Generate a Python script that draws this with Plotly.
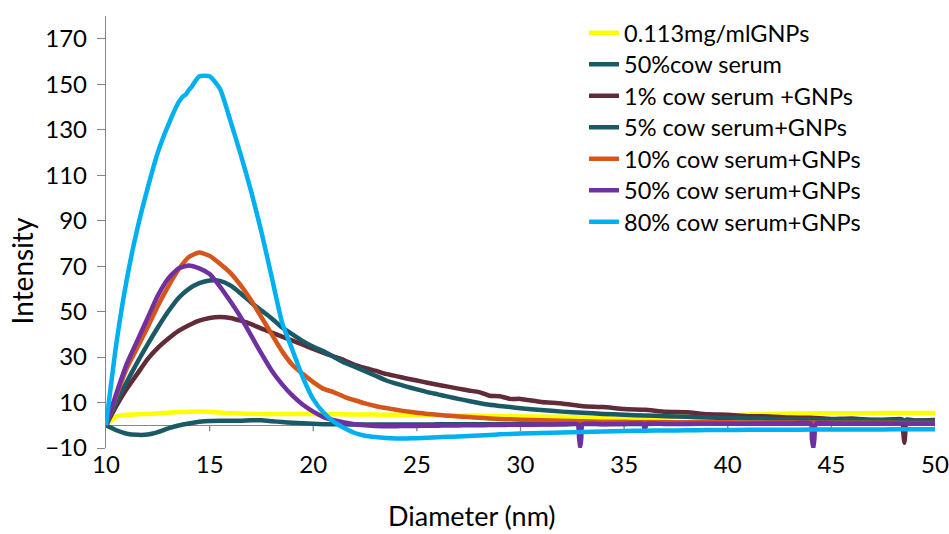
import plotly.graph_objects as go

# Diameter grid (nm): 0.5 nm steps up to 30 nm, 1 nm steps beyond
DIAMETER = [10.0, 10.5, 11.0, 11.5, 12.0, 12.5, 13.0, 13.5, 14.0, 14.5,
            15.0, 15.5, 16.0, 16.5, 17.0, 17.5, 18.0, 18.5, 19.0, 19.5,
            20.0, 20.5, 21.0, 21.5, 22.0, 22.5, 23.0, 23.5, 24.0, 24.5,
            25.0, 25.5, 26.0, 26.5, 27.0, 27.5, 28.0, 28.5, 29.0, 29.5,
            30.0, 31, 32, 33, 34, 35, 36, 37, 38, 39,
            40, 41, 42, 43, 44, 45, 46, 47, 48, 49, 50]

GNPS_ONLY = [0, 3.8, 4.6, 4.8, 5.0, 5.2, 5.5, 5.8, 5.9, 6.0,
             5.9, 5.6, 5.3, 5.2, 5.0, 4.9, 4.9, 4.9, 4.9, 4.9,
             4.9, 4.8, 4.8, 4.8, 4.7, 4.7, 4.7, 4.6, 4.6, 4.6,
             4.5, 4.5, 4.4, 4.4, 4.3, 4.3, 4.2, 4.1, 4.0, 4.0,
             3.9, 3.8, 3.7, 3.6, 3.5, 3.5, 3.6, 3.7, 3.9, 4.1,
             4.4, 4.7, 5.0, 5.2, 5.2, 5.3, 5.3, 5.3, 5.4, 5.4, 5.4]

SERUM_50 = [0, -2.2, -3.7, -4.2, -4.1, -3.0, -1.4, -0.1, 0.8, 1.5,
            1.9, 2.0, 2.0, 2.0, 2.2, 2.2, 1.8, 1.4, 1.1, 0.9,
            0.7, 0.5, 0.4, 0.4, 0.3, 0.3, 0.3, 0.3, 0.3, 0.3,
            0.3, 0.3, 0.4, 0.4, 0.4, 0.4, 0.4, 0.4, 0.5, 0.5,
            0.5, 0.5, 0.5, 0.6, 0.6, 0.6, 0.6, 0.7, 0.7, 0.7,
            0.7, 0.7, 0.8, 0.8, 0.8, 0.8, 0.8, 0.8, 0.8, 0.8, 0.8]

SERUM_1_GNPS = [0, 8.5, 16.0, 22.5, 29.0, 34.0, 38.0, 41.5, 44.0, 46.0,
                47.2, 47.6, 47.2, 46.0, 44.5, 42.5, 40.8, 39.0, 37.2, 35.4,
                33.6, 31.8, 30.2, 28.6, 26.6, 25.2, 24.0, 22.6, 21.6, 20.6,
                19.7, 18.7, 17.8, 17.0, 16.1, 15.3, 14.6, 13.0, 12.8, 11.6,
                11.6, 10.2, 9.6, 8.4, 8.0, 7.1, 6.8, 5.9, 5.7, 4.8,
                4.6, 4.0, 3.9, 3.4, 3.3, 2.8, 3.0, 2.4, 2.6, 2.1, 2.3]

SERUM_5_GNPS = [0, 10.0, 19.0, 27.5, 35.5, 43.0, 50.0, 56.0, 60.0, 62.5,
                63.7, 63.5, 61.5, 58.0, 54.0, 50.5, 47.0, 43.0, 40.0, 37.0,
                34.5, 32.5, 30.0, 27.5, 25.8, 23.8, 21.8, 19.8, 18.3, 17.0,
                15.8, 14.6, 13.6, 12.6, 11.6, 10.7, 9.8, 9.0, 8.5, 8.0,
                7.5, 6.7, 6.0, 5.5, 5.0, 4.6, 4.3, 4.0, 3.7, 3.4,
                3.2, 3.0, 2.9, 2.7, 2.6, 2.5, 2.4, 2.3, 2.2, 2.1, 2.0]

SERUM_10_GNPS = [0, 13.0, 25.0, 34.0, 43.0, 52.5, 61.0, 68.5, 74.0, 76.0,
                 74.5, 71.0, 67.0, 61.5, 55.0, 47.5, 40.0, 32.5, 26.5, 22.5,
                 19.0, 16.0, 14.5, 12.5, 11.0, 9.6, 8.5, 7.6, 6.8, 6.1,
                 5.5, 5.0, 4.6, 4.2, 3.9, 3.6, 3.3, 3.0, 2.8, 2.6,
                 2.4, 2.2, 2.0, 1.8, 1.6, 1.5, 1.4, 1.4, 1.3, 1.3,
                 1.3, 1.2, 1.2, 1.2, 1.2, 1.1, 1.1, 1.1, 1.1, 1.0, 1.0]

SERUM_50_GNPS = [0, 14.0, 27.0, 37.0, 47.0, 57.0, 64.5, 69.0, 70.3, 69.0,
                 66.5, 61.0, 54.5, 47.5, 39.5, 31.5, 24.0, 18.0, 13.0, 9.0,
                 6.0, 3.6, 2.2, 1.2, 0.4, 0.0, -0.3, -0.4, -0.4, -0.3,
                 -0.3, -0.2, -0.2, -0.1, -0.1, 0.0, 0.0, 0.1, 0.1, 0.2,
                 0.2, 0.3, 0.4, 0.4, 0.5, 0.6, -2.5, 0.6, 0.6, 0.7,
                 0.7, 0.7, 0.8, 0.8, 0.8, 0.8, 0.8, 0.8, 0.8, 0.8, 0.8]

SERUM_80_GNPS = [0, 36.0, 64.0, 86.0, 104.0, 120.0, 132.0, 142.0, 147.5, 153.5,
                 153.5, 148.0, 134.0, 119.0, 103.0, 85.0, 65.0, 45.0, 33.0, 21.0,
                 11.5, 5.5, 1.5, -1.2, -3.4, -4.6, -5.2, -5.6, -5.8, -5.8,
                 -5.7, -5.5, -5.3, -5.1, -4.9, -4.7, -4.5, -4.3, -4.0, -3.8,
                 -3.6, -3.4, -3.2, -3.0, -2.7, -2.5, -2.4, -2.3, -2.2, -2.1,
                 -2.1, -2.0, -2.0, -2.0, -1.9, -1.9, -1.9, -1.9, -1.8, -1.8, -1.8]

# Extra readings between grid points (shoulder on the 80% peak, narrow dropouts)
SERUM_80_EXTRA_X = [13.7, 13.85, 14.1]
SERUM_80_EXTRA_Y = [144.5, 145.5, 148.5]
SERUM_50_GNPS_EXTRA_X = [32.75, 32.83, 32.88, 32.93, 35.92, 36.08,
                         44.06, 44.12, 44.18, 44.26]
SERUM_50_GNPS_EXTRA_Y = [0.4, -6.0, -9.4, -6.0, 0.6, 0.6,
                         -6.0, -10.0, -6.0, 0.7]
SERUM_1_EXTRA_X = [48.42, 48.47, 48.52, 48.57, 48.62]
SERUM_1_EXTRA_Y = [2.6, -3.0, -7.7, -3.0, 2.5]

SERIES_NAMES = ["0.113mg/mlGNPs", "50%cow serum", "1% cow serum +GNPs",
                "5% cow serum+GNPs", "10% cow serum+GNPs", "50% cow serum+GNPs",
                "80% cow serum+GNPs"]
COLORS = ["#FFFF00", "#1A5A66", "#612B37", "#1A5A66", "#D4561A", "#7030A0", "#00B0F0"]

X_TICKS = [10, 15, 20, 25, 30, 35, 40, 45, 50]
Y_TICKS = [-10, 10, 30, 50, 70, 90, 110, 130, 150, 170]


def merged(xs, ys, ex_x=(), ex_y=()):
    pts = sorted(list(zip(xs, ys)) + list(zip(ex_x, ex_y)))
    return [p[0] for p in pts], [p[1] for p in pts]


series = [
    merged(DIAMETER, GNPS_ONLY),
    merged(DIAMETER, SERUM_50),
    merged(DIAMETER, SERUM_1_GNPS, SERUM_1_EXTRA_X, SERUM_1_EXTRA_Y),
    merged(DIAMETER, SERUM_5_GNPS),
    merged(DIAMETER, SERUM_10_GNPS),
    merged(DIAMETER, SERUM_50_GNPS, SERUM_50_GNPS_EXTRA_X, SERUM_50_GNPS_EXTRA_Y),
    merged(DIAMETER, SERUM_80_GNPS, SERUM_80_EXTRA_X, SERUM_80_EXTRA_Y),
]

FONT = "Lato"
AXIS_GREY = "#868686"
PLOT_L, PLOT_R, PLOT_T, PLOT_B = 106, 935, 15, 448   # plot area in pixels
PW, PH = PLOT_R - PLOT_L, PLOT_B - PLOT_T

fig = go.Figure()
legend_keys = ["legend"] + [f"legend{i}" for i in range(2, len(SERIES_NAMES) + 1)]
for (xs, ys), name, color, key in zip(series, SERIES_NAMES, COLORS, legend_keys):
    fig.add_trace(go.Scatter(
        x=xs, y=ys, mode="lines", name=name, legend=key,
        line=dict(color=color, width=4.5, shape="spline", smoothing=0.5),
    ))

# Horizontal axis line crossing at zero, with its tick marks hanging below
for t in X_TICKS[1:]:
    fig.add_shape(type="line", xref="x", yref="y", x0=t, x1=t,
                  ysizemode="pixel", yanchor=0, y0=0, y1=-6,
                  line=dict(color=AXIS_GREY, width=1.3), layer="below")

# One single-entry legend per series, stacked down the upper right corner
legend_layout = {}
for i, key in enumerate(legend_keys):
    row_px = 33 + i * 31.5
    legend_layout[key] = dict(
        x=(584 - PLOT_L) / PW, y=(PLOT_B - row_px) / PH,
        xanchor="left", yanchor="middle", bgcolor="rgba(0,0,0,0)",
        font=dict(family=FONT, size=23.5, color="black"), itemwidth=30,
    )

fig.update_layout(
    width=949, height=534,
    margin=dict(l=PLOT_L, r=949 - PLOT_R, t=PLOT_T, b=534 - PLOT_B),
    paper_bgcolor="white", plot_bgcolor="white",
    font=dict(family=FONT, size=24, color="black"),
    showlegend=True,
    xaxis=dict(range=[10, 50], tickvals=X_TICKS, showgrid=False, zeroline=False,
               showline=False, ticks="", tickfont=dict(size=24), automargin=False),
    yaxis=dict(range=[-10, 180], tickvals=Y_TICKS, showgrid=False,
               zeroline=True, zerolinecolor=AXIS_GREY, zerolinewidth=1.3,
               showline=True, linecolor=AXIS_GREY, linewidth=1.3,
               ticks="outside", ticklen=8, tickcolor=AXIS_GREY, tickwidth=1.3,
               ticklabelstandoff=5, tickfont=dict(size=24), automargin=False),
    annotations=[
        dict(text="Diameter (nm)", xref="paper", yref="paper",
             x=(472 - PLOT_L) / PW, y=-(516 - PLOT_B) / PH, xanchor="center",
             yanchor="middle", showarrow=False, font=dict(size=27)),
        dict(text="Intensity", xref="paper", yref="paper",
             x=-(PLOT_L - 22) / PW, y=(PLOT_B - 271) / PH, xanchor="center",
             yanchor="middle", textangle=-90, showarrow=False, font=dict(size=28)),
    ],
    **legend_layout,
)

fig.write_html("out.html")
